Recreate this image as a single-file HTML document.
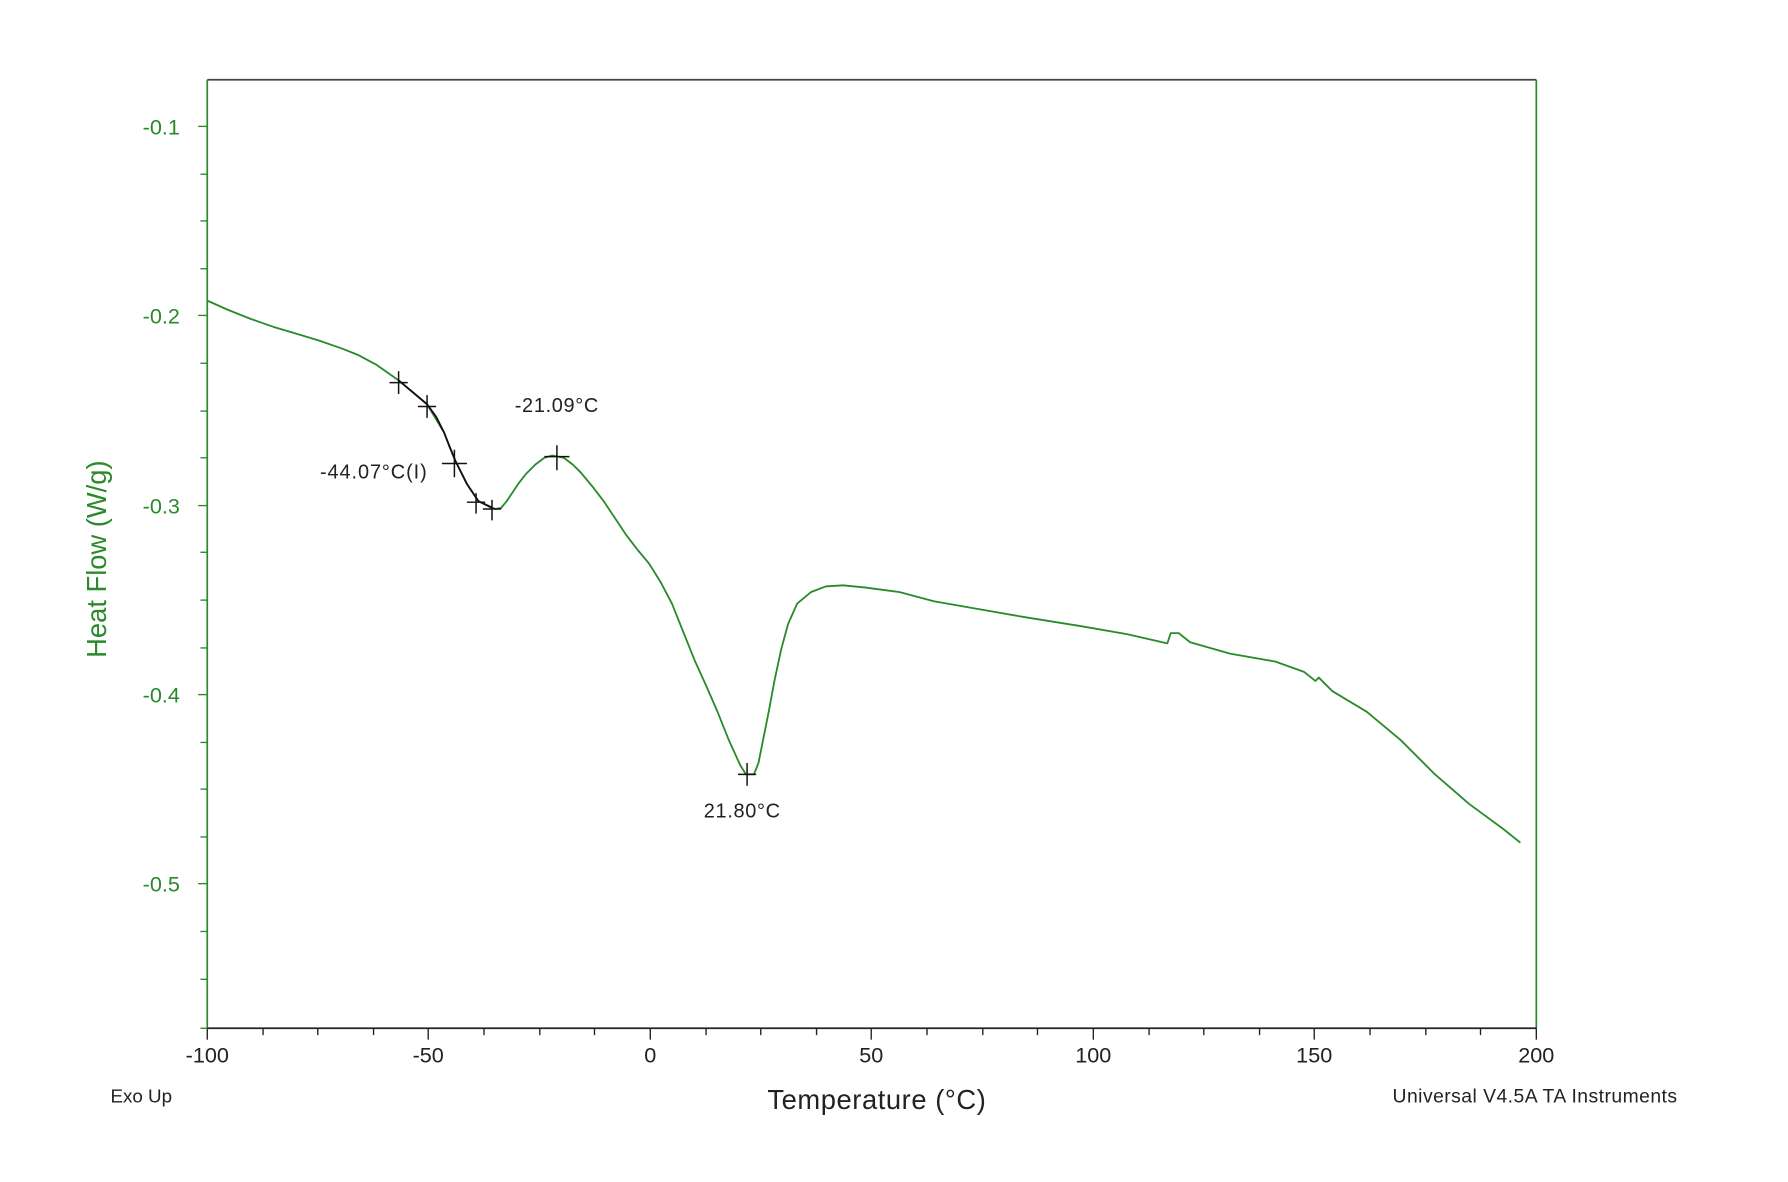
<!DOCTYPE html>
<html><head><meta charset="utf-8"><style>
html,body{margin:0;padding:0;background:#fff;}
svg{display:block;}
text{font-family:"Liberation Sans",sans-serif;}
</style></head><body>
<svg width="1788" height="1182" viewBox="0 0 1570 1038" preserveAspectRatio="none" xmlns="http://www.w3.org/2000/svg">
<rect width="1570" height="1038" fill="#fff"/>
<line x1="182" y1="70" x2="1349" y2="70" stroke="#444" stroke-width="1.5"/>
<line x1="182" y1="70" x2="182" y2="903" stroke="#2a8a2a" stroke-width="1.5"/>
<line x1="1349" y1="70" x2="1349" y2="903" stroke="#2a8a2a" stroke-width="1.5"/>
<line x1="182" y1="903" x2="1349" y2="903" stroke="#222" stroke-width="1.5"/>
<g stroke="#222" stroke-width="1.2">
<line x1="182" y1="903" x2="182" y2="913"/><line x1="231" y1="903" x2="231" y2="909"/><line x1="279" y1="903" x2="279" y2="909"/><line x1="328" y1="903" x2="328" y2="909"/>
<line x1="376" y1="903" x2="376" y2="913"/><line x1="425" y1="903" x2="425" y2="909"/><line x1="474" y1="903" x2="474" y2="909"/><line x1="522" y1="903" x2="522" y2="909"/>
<line x1="571" y1="903" x2="571" y2="913"/><line x1="620" y1="903" x2="620" y2="909"/><line x1="668" y1="903" x2="668" y2="909"/><line x1="717" y1="903" x2="717" y2="909"/>
<line x1="765" y1="903" x2="765" y2="913"/><line x1="814" y1="903" x2="814" y2="909"/><line x1="863" y1="903" x2="863" y2="909"/><line x1="911" y1="903" x2="911" y2="909"/>
<line x1="960" y1="903" x2="960" y2="913"/><line x1="1009" y1="903" x2="1009" y2="909"/><line x1="1057" y1="903" x2="1057" y2="909"/><line x1="1106" y1="903" x2="1106" y2="909"/>
<line x1="1154" y1="903" x2="1154" y2="913"/><line x1="1203" y1="903" x2="1203" y2="909"/><line x1="1252" y1="903" x2="1252" y2="909"/><line x1="1300" y1="903" x2="1300" y2="909"/>
<line x1="1349" y1="903" x2="1349" y2="913"/>
</g>
<g stroke="#2a8a2a" stroke-width="1.2">
<line x1="174" y1="111" x2="182" y2="111"/><line x1="176" y1="153" x2="182" y2="153"/><line x1="176" y1="194" x2="182" y2="194"/><line x1="176" y1="236" x2="182" y2="236"/>
<line x1="174" y1="277" x2="182" y2="277"/><line x1="176" y1="319" x2="182" y2="319"/><line x1="176" y1="361" x2="182" y2="361"/><line x1="176" y1="402" x2="182" y2="402"/>
<line x1="174" y1="444" x2="182" y2="444"/><line x1="176" y1="485" x2="182" y2="485"/><line x1="176" y1="527" x2="182" y2="527"/><line x1="176" y1="569" x2="182" y2="569"/>
<line x1="174" y1="610" x2="182" y2="610"/><line x1="176" y1="652" x2="182" y2="652"/><line x1="176" y1="693" x2="182" y2="693"/><line x1="176" y1="735" x2="182" y2="735"/>
<line x1="174" y1="776" x2="182" y2="776"/><line x1="176" y1="818" x2="182" y2="818"/><line x1="176" y1="860" x2="182" y2="860"/><line x1="176" y1="903" x2="182" y2="903"/>
</g>
<g fill="#2a8a2a" font-size="19" text-anchor="end">
<text x="158" y="118">-0.1</text><text x="158" y="284">-0.2</text><text x="158" y="451">-0.3</text><text x="158" y="617">-0.4</text><text x="158" y="783">-0.5</text>
</g>
<text x="93" y="491" fill="#2a8a2a" font-size="24" text-anchor="middle" transform="rotate(-90 93 491)">Heat Flow (W/g)</text>
<g fill="#222" font-size="19" text-anchor="middle">
<text x="182" y="933">-100</text><text x="376" y="933">-50</text><text x="571" y="933">0</text><text x="765" y="933">50</text><text x="960" y="933">100</text><text x="1154" y="933">150</text><text x="1349" y="933">200</text>
</g>
<text x="770" y="974" font-size="24" fill="#222" text-anchor="middle" letter-spacing="0.5">Temperature (°C)</text>
<text x="97" y="968" font-size="16.5" fill="#222">Exo Up</text>
<text x="1473" y="968" font-size="17" fill="#222" text-anchor="end" letter-spacing="0.4">Universal V4.5A TA Instruments</text>
<polyline fill="none" stroke="#2a8a2a" stroke-width="1.6" stroke-linejoin="round" points="182,264 200,272 220,280 240,287 260,293 280,299 300,306 315,312 330,320 350,334 375,355 390,380 400,405 410,425 420,440 435,447 440,446 445,440 455,425 462,416 470,408 478,402 485,400 495,402 503,408 510,415 520,427 530,440 540,455 550,470 560,483 570,495 580,511 590,530 600,555 610,580 620,602 630,625 640,650 650,672 655,680 662,680 666,670 670,650 675,625 680,598 686,570 692,548 700,530 712,520 725,515 740,514 760,516 790,520 820,528 860,535 900,542 950,550 990,557 1025,565 1028,556 1035,556 1045,564 1080,574 1120,581 1145,590 1155,598 1158,595 1170,607 1200,625 1230,650 1260,680 1290,706 1320,728 1335,740"/>
<polyline fill="none" stroke="#111" stroke-width="1.6" stroke-linejoin="round" points="350,334 375,355 383,366 390,380 395,393 400,405 410,425 420,440 432,446"/>
<g stroke="#111" stroke-width="1.3">
<path d="M350,326v20M342,336h16"/>
<path d="M375,347v20M367,357h16"/>
<path d="M399,395v24M388,407h22"/>
<path d="M418,433v18M410,441h16"/>
<path d="M432,439v18M424,447h16"/>
<path d="M489,391v22M478,401h22"/>
<path d="M656,670v20M648,680h16"/>
</g>
<g fill="#222" font-size="17.5">
<text x="452" y="362" letter-spacing="0.6">-21.09°C</text>
<text x="281" y="420" letter-spacing="0.8">-44.07°C(I)</text>
<text x="618" y="718" letter-spacing="0.6">21.80°C</text>
</g>
</svg>
</body></html>
